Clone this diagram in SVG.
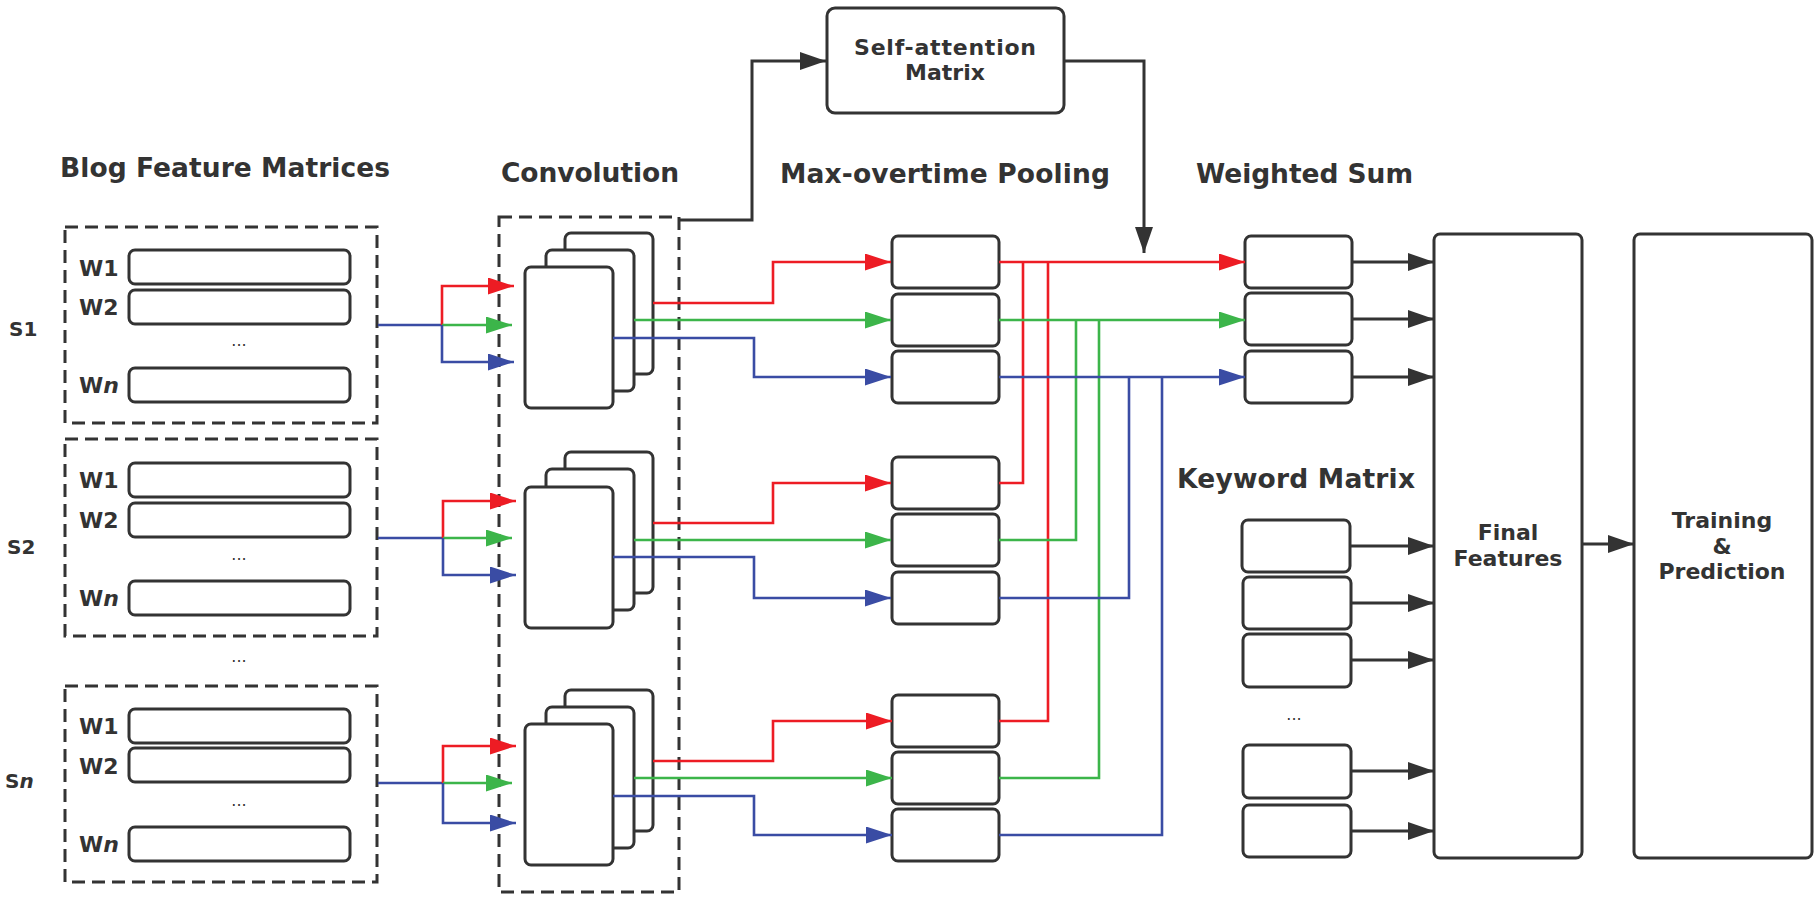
<svg xmlns="http://www.w3.org/2000/svg" width="1819" height="900" viewBox="0 0 1819 900">
<defs>
<style>
.bg{fill:#fff}
.box{fill:#fff;stroke:#333;stroke-width:3}
.dash{fill:none;stroke:#333;stroke-width:3;stroke-dasharray:13 7}
.hdr{font-family:"DejaVu Sans",sans-serif;font-weight:bold;font-size:26.5px;fill:#333}
.lbl{font-family:"DejaVu Sans",sans-serif;font-weight:bold;font-size:22px;fill:#333}
.sl{font-family:"DejaVu Sans",sans-serif;font-weight:bold;font-size:20px;fill:#333}
.dots{font-family:"DejaVu Sans",sans-serif;font-size:16px;fill:#333;text-anchor:middle}
.mid{text-anchor:middle}
.k{fill:none;stroke:#333;stroke-width:3}
.r{fill:none;stroke:#ed1c24;stroke-width:2.6}
.g{fill:none;stroke:#3cb54a;stroke-width:2.6}
.b{fill:none;stroke:#3a4ca4;stroke-width:2.6}
</style>
<marker id="ak" markerUnits="userSpaceOnUse" markerWidth="26" markerHeight="18" refX="26" refY="9" orient="auto"><path d="M0,0 L26,9 L0,18 z" fill="#333"/></marker>
<marker id="ar" markerUnits="userSpaceOnUse" markerWidth="26" markerHeight="17" refX="26" refY="8.5" orient="auto"><path d="M0,0 L26,8.5 L0,17 z" fill="#ed1c24"/></marker>
<marker id="ag" markerUnits="userSpaceOnUse" markerWidth="26" markerHeight="17" refX="26" refY="8.5" orient="auto"><path d="M0,0 L26,8.5 L0,17 z" fill="#3cb54a"/></marker>
<marker id="ab" markerUnits="userSpaceOnUse" markerWidth="26" markerHeight="17" refX="26" refY="8.5" orient="auto"><path d="M0,0 L26,8.5 L0,17 z" fill="#3a4ca4"/></marker>
</defs>
<rect class="bg" x="0" y="0" width="1819" height="900"/>

<!-- headers -->
<g id="headers">
<text class="hdr" x="60" y="177" textLength="330" lengthAdjust="spacing">Blog Feature Matrices</text>
<text class="hdr" x="501" y="182" textLength="178" lengthAdjust="spacing">Convolution</text>
<text class="hdr" x="780" y="183" textLength="330" lengthAdjust="spacing">Max-overtime Pooling</text>
<text class="hdr" x="1196" y="183" textLength="217" lengthAdjust="spacing">Weighted Sum</text>
<text class="hdr" x="1177" y="488" textLength="238" lengthAdjust="spacing">Keyword Matrix</text>
</g>

<!-- sentence matrices -->
<g id="s1">
<text class="sl" x="9" y="336">S1</text>
<rect class="dash" x="65" y="227" width="312" height="196"/>
<text class="lbl" x="79" y="276">W1</text><rect class="box" x="129" y="250" width="221" height="34" rx="6"/>
<text class="lbl" x="79" y="315">W2</text><rect class="box" x="129" y="290" width="221" height="34" rx="6"/>
<text class="dots" x="239" y="346">...</text>
<text class="lbl" x="79" y="393">W<tspan font-style="italic">n</tspan></text><rect class="box" x="129" y="368" width="221" height="34" rx="6"/>
</g>
<g id="s2">
<text class="sl" x="7" y="554">S2</text>
<rect class="dash" x="65" y="439" width="312" height="197"/>
<text class="lbl" x="79" y="488">W1</text><rect class="box" x="129" y="463" width="221" height="34" rx="6"/>
<text class="lbl" x="79" y="528">W2</text><rect class="box" x="129" y="503" width="221" height="34" rx="6"/>
<text class="dots" x="239" y="560">...</text>
<text class="lbl" x="79" y="606">W<tspan font-style="italic">n</tspan></text><rect class="box" x="129" y="581" width="221" height="34" rx="6"/>
</g>
<text class="dots" x="239" y="662">...</text>
<g id="sn">
<text class="sl" x="5" y="788">S<tspan font-style="italic">n</tspan></text>
<rect class="dash" x="65" y="686" width="312" height="196"/>
<text class="lbl" x="79" y="734">W1</text><rect class="box" x="129" y="709" width="221" height="34" rx="6"/>
<text class="lbl" x="79" y="774">W2</text><rect class="box" x="129" y="748" width="221" height="34" rx="6"/>
<text class="dots" x="239" y="806">...</text>
<text class="lbl" x="79" y="852">W<tspan font-style="italic">n</tspan></text><rect class="box" x="129" y="827" width="221" height="34" rx="6"/>
</g>

<!-- convolution -->
<g id="conv">
<rect class="dash" x="499" y="217" width="180" height="675"/>
<rect class="box" x="565" y="233" width="88" height="141" rx="6"/>
<rect class="box" x="546" y="250" width="88" height="141" rx="6"/>
<rect class="box" x="525" y="267" width="88" height="141" rx="6"/>
<rect class="box" x="565" y="452" width="88" height="141" rx="6"/>
<rect class="box" x="546" y="469" width="88" height="141" rx="6"/>
<rect class="box" x="525" y="487" width="88" height="141" rx="6"/>
<rect class="box" x="565" y="690" width="88" height="141" rx="6"/>
<rect class="box" x="546" y="707" width="88" height="141" rx="6"/>
<rect class="box" x="525" y="724" width="88" height="141" rx="6"/>
</g>

<!-- self attention -->
<g id="selfatt">
<rect class="box" x="827" y="8" width="237" height="105" rx="8"/>
<text class="lbl mid" x="945" y="55" textLength="182" lengthAdjust="spacing">Self-attention</text>
<text class="lbl mid" x="945" y="80">Matrix</text>
</g>

<!-- pooling -->
<g id="pool">
<rect class="box" x="892" y="236" width="107" height="52" rx="6"/>
<rect class="box" x="892" y="294" width="107" height="52" rx="6"/>
<rect class="box" x="892" y="351" width="107" height="52" rx="6"/>
<rect class="box" x="892" y="457" width="107" height="52" rx="6"/>
<rect class="box" x="892" y="514" width="107" height="52" rx="6"/>
<rect class="box" x="892" y="572" width="107" height="52" rx="6"/>
<rect class="box" x="892" y="695" width="107" height="52" rx="6"/>
<rect class="box" x="892" y="752" width="107" height="52" rx="6"/>
<rect class="box" x="892" y="809" width="107" height="52" rx="6"/>
</g>

<!-- weighted sum -->
<g id="wsum">
<rect class="box" x="1245" y="236" width="107" height="52" rx="6"/>
<rect class="box" x="1245" y="293" width="107" height="52" rx="6"/>
<rect class="box" x="1245" y="351" width="107" height="52" rx="6"/>
</g>

<!-- keyword matrix -->
<g id="keyword">
<rect class="box" x="1242" y="520" width="108" height="52" rx="6"/>
<rect class="box" x="1243" y="577" width="108" height="52" rx="6"/>
<rect class="box" x="1243" y="634" width="108" height="53" rx="6"/>
<text class="dots" x="1294" y="720">...</text>
<rect class="box" x="1243" y="745" width="108" height="53" rx="6"/>
<rect class="box" x="1243" y="805" width="108" height="52" rx="6"/>
</g>

<g id="final">
<rect class="box" x="1434" y="234" width="148" height="624" rx="6"/>
<text class="lbl mid" x="1508" y="540">Final</text>
<text class="lbl mid" x="1508" y="566">Features</text>
</g>
<g id="train">
<rect class="box" x="1634" y="234" width="178" height="624" rx="6"/>
<text class="lbl mid" x="1722" y="528">Training</text>
<text class="lbl mid" x="1722" y="554">&amp;</text>
<text class="lbl mid" x="1722" y="579">Prediction</text>
</g>

<g id="connectors">
<!-- S -> conv -->
<path class="b" d="M378,325 H442"/>
<path class="r" d="M442,325 V286 H514" marker-end="url(#ar)"/>
<path class="g" d="M442,325 H512" marker-end="url(#ag)"/>
<path class="b" d="M442,325 V362 H514" marker-end="url(#ab)"/>
<path class="b" d="M378,538 H443"/>
<path class="r" d="M443,538 V501 H516" marker-end="url(#ar)"/>
<path class="g" d="M443,538 H512" marker-end="url(#ag)"/>
<path class="b" d="M443,538 V575 H516" marker-end="url(#ab)"/>
<path class="b" d="M378,783 H443"/>
<path class="r" d="M443,783 V746 H516" marker-end="url(#ar)"/>
<path class="g" d="M443,783 H512" marker-end="url(#ag)"/>
<path class="b" d="M443,783 V823 H516" marker-end="url(#ab)"/>
<!-- conv -> pool -->
<path class="r" d="M653,303 H773 V262 H891" marker-end="url(#ar)"/>
<path class="g" d="M634,320 H891" marker-end="url(#ag)"/>
<path class="b" d="M613,338 H754 V377 H891" marker-end="url(#ab)"/>
<path class="r" d="M653,523 H773 V483 H891" marker-end="url(#ar)"/>
<path class="g" d="M634,540 H891" marker-end="url(#ag)"/>
<path class="b" d="M613,557 H754 V598 H891" marker-end="url(#ab)"/>
<path class="r" d="M653,761 H773 V721 H892" marker-end="url(#ar)"/>
<path class="g" d="M634,778 H892" marker-end="url(#ag)"/>
<path class="b" d="M613,796 H754 V835 H892" marker-end="url(#ab)"/>
<!-- pool -> weighted sum -->
<path class="r" d="M999,262 H1245" marker-end="url(#ar)"/>
<path class="r" d="M999,483 H1023 V262"/>
<path class="r" d="M999,721 H1048 V262"/>
<path class="g" d="M999,320 H1245" marker-end="url(#ag)"/>
<path class="g" d="M999,540 H1076 V320"/>
<path class="g" d="M999,778 H1099 V320"/>
<path class="b" d="M999,377 H1245" marker-end="url(#ab)"/>
<path class="b" d="M999,598 H1129 V377"/>
<path class="b" d="M999,835 H1162 V377"/>
<!-- self attention -->
<path class="k" d="M679,220 H752 V61 H826" marker-end="url(#ak)"/>
<path class="k" d="M1064,61 H1144 V253" marker-end="url(#ak)"/>
<!-- to final features -->
<path class="k" d="M1352,262 H1434" marker-end="url(#ak)"/>
<path class="k" d="M1352,319 H1434" marker-end="url(#ak)"/>
<path class="k" d="M1352,377 H1434" marker-end="url(#ak)"/>
<path class="k" d="M1350,546 H1434" marker-end="url(#ak)"/>
<path class="k" d="M1351,603 H1434" marker-end="url(#ak)"/>
<path class="k" d="M1351,660 H1434" marker-end="url(#ak)"/>
<path class="k" d="M1351,771 H1434" marker-end="url(#ak)"/>
<path class="k" d="M1351,831 H1434" marker-end="url(#ak)"/>
<path class="k" d="M1582,544 H1634" marker-end="url(#ak)"/>
</g>
</svg>
